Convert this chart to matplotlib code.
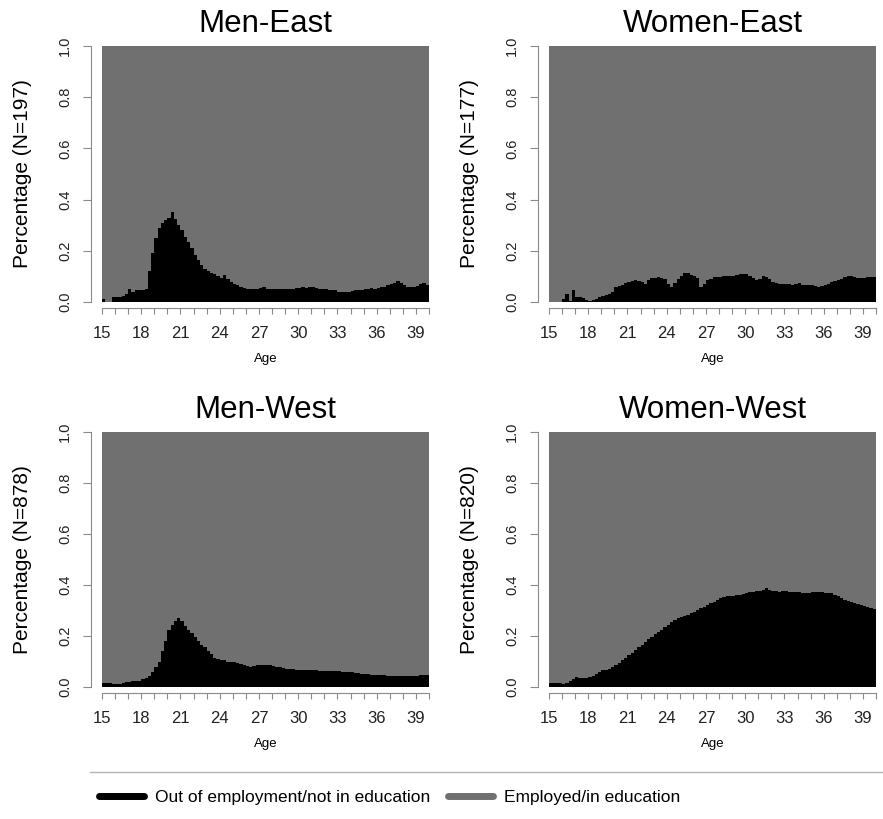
import numpy as np
import matplotlib.pyplot as plt
from matplotlib.lines import Line2D

plt.rcParams['font.family'] = ['Liberation Sans', 'DejaVu Sans']

# ages 15..40, one value per quarter year
age_start, age_end, age_step = 15, 40, 0.25
titles = ["Men-East", "Women-East", "Men-West", "Women-West"]
group_n = [197, 177, 878, 820]
age_ticks = list(range(15, 41))
age_labels = [str(a) if (a - 15) % 3 == 0 else "" for a in age_ticks]
state_labels = ["Out of employment/not in education", "Employed/in education"]

# share out of employment / not in education
men_east = [
    0.013, 0.0, 0.0, 0.02, 0.02, 0.02, 0.025, 0.03, 0.05, 0.04, 0.045, 0.045,
    0.045, 0.05, 0.12, 0.19, 0.25, 0.29, 0.31, 0.32, 0.33, 0.35, 0.325, 0.30,
    0.28, 0.255, 0.235, 0.21, 0.185, 0.165, 0.145, 0.13, 0.12, 0.115, 0.11, 0.10,
    0.095, 0.105, 0.09, 0.08, 0.072, 0.065, 0.06, 0.055, 0.052, 0.05, 0.052, 0.052,
    0.055, 0.058, 0.052, 0.05, 0.052, 0.05, 0.052, 0.05, 0.052, 0.05, 0.052, 0.055,
    0.055, 0.057, 0.055, 0.058, 0.06, 0.055, 0.052, 0.05, 0.05, 0.048, 0.047, 0.045,
    0.04, 0.04, 0.04, 0.04, 0.042, 0.045, 0.045, 0.048, 0.05, 0.052, 0.055, 0.052,
    0.055, 0.058, 0.06, 0.065, 0.072, 0.075, 0.082, 0.075, 0.065, 0.06, 0.058, 0.06,
    0.062, 0.07, 0.075, 0.065,
]
women_east = [
    0.0, 0.0, 0.0, 0.0, 0.01, 0.03, 0.005, 0.045, 0.02, 0.018, 0.015, 0.007,
    0.005, 0.007, 0.012, 0.02, 0.025, 0.028, 0.03, 0.04, 0.058, 0.062, 0.068, 0.075,
    0.078, 0.082, 0.085, 0.083, 0.08, 0.072, 0.085, 0.092, 0.095, 0.098, 0.095, 0.09,
    0.07, 0.06, 0.075, 0.09, 0.10, 0.112, 0.115, 0.105, 0.10, 0.095, 0.06, 0.07,
    0.085, 0.09, 0.098, 0.098, 0.098, 0.10, 0.103, 0.102, 0.10, 0.104, 0.108, 0.11,
    0.11, 0.102, 0.095, 0.087, 0.09, 0.10, 0.098, 0.088, 0.08, 0.074, 0.072, 0.072,
    0.07, 0.07, 0.068, 0.072, 0.073, 0.068, 0.065, 0.065, 0.065, 0.062, 0.06, 0.063,
    0.066, 0.072, 0.078, 0.082, 0.085, 0.09, 0.098, 0.10, 0.10, 0.098, 0.095, 0.095,
    0.095, 0.097, 0.098, 0.098,
]
men_west = [
    0.015, 0.014, 0.016, 0.013, 0.01, 0.012, 0.017, 0.018, 0.02, 0.022, 0.022, 0.025,
    0.03, 0.035, 0.045, 0.06, 0.08, 0.10, 0.14, 0.18, 0.225, 0.245, 0.26, 0.27,
    0.26, 0.24, 0.222, 0.21, 0.195, 0.18, 0.165, 0.155, 0.14, 0.128, 0.115, 0.11,
    0.107, 0.104, 0.10, 0.10, 0.098, 0.095, 0.09, 0.087, 0.083, 0.08, 0.083, 0.087,
    0.086, 0.085, 0.087, 0.085, 0.083, 0.08, 0.077, 0.074, 0.072, 0.07, 0.069, 0.068,
    0.068, 0.067, 0.067, 0.066, 0.065, 0.065, 0.064, 0.063, 0.063, 0.063, 0.062, 0.062,
    0.061, 0.06, 0.059, 0.058, 0.057, 0.056, 0.054, 0.052, 0.051, 0.05, 0.048, 0.047,
    0.047, 0.047, 0.046, 0.045, 0.045, 0.044, 0.044, 0.044, 0.044, 0.043, 0.042, 0.042,
    0.044, 0.046, 0.047, 0.048,
]
women_west = [
    0.016, 0.015, 0.017, 0.014, 0.01, 0.015, 0.025, 0.032, 0.038, 0.037, 0.035, 0.035,
    0.038, 0.045, 0.052, 0.06, 0.065, 0.068, 0.072, 0.078, 0.085, 0.095, 0.105, 0.115,
    0.125, 0.135, 0.145, 0.155, 0.165, 0.175, 0.187, 0.198, 0.209, 0.216, 0.224, 0.234,
    0.244, 0.253, 0.262, 0.27, 0.276, 0.28, 0.284, 0.29, 0.296, 0.302, 0.309, 0.315,
    0.322, 0.328, 0.335, 0.342, 0.348, 0.352, 0.355, 0.356, 0.357, 0.359, 0.361, 0.364,
    0.368, 0.371, 0.374, 0.376, 0.377, 0.382, 0.39, 0.38, 0.378, 0.376, 0.374, 0.375,
    0.375, 0.374, 0.374, 0.373, 0.372, 0.37, 0.368, 0.37, 0.372, 0.373, 0.374, 0.372,
    0.37, 0.369, 0.368, 0.362, 0.355, 0.348, 0.342, 0.338, 0.335, 0.331, 0.326, 0.321,
    0.316, 0.312, 0.309, 0.306,
]
groups = [men_east, women_east, men_west, women_west]

OUT_COLOR = "#000000"
EMP_COLOR = "#707070"
AXIS_COLOR = "#8a8a8a"

fig = plt.figure(figsize=(8.83, 8.19), dpi=100)
W, H = 883, 819
# panel rectangles in pixels: left, top, width, height
rects = [(102, 46, 327, 256), (549, 46, 327, 256),
         (102, 432, 327, 255), (549, 432, 327, 255)]

edges = np.arange(age_start, age_end + age_step / 2, age_step)

for (lx, ty, pw, ph), title, n, out in zip(rects, titles, group_n, groups):
    ax = fig.add_axes([lx / W, 1 - (ty + ph) / H, pw / W, ph / H])
    out = np.array(out)
    ax.stairs(out, edges, baseline=0, fill=True, color=OUT_COLOR, lw=0)
    ax.stairs(np.ones_like(out), edges, baseline=out, fill=True, color=EMP_COLOR, lw=0)
    ax.set_xlim(age_start, age_end)
    ax.set_ylim(0, 1)

    for s in ["top", "right"]:
        ax.spines[s].set_visible(False)
    ax.spines["left"].set_position(("outward", 8))
    ax.spines["bottom"].set_position(("outward", 4.5))
    ax.spines["left"].set_bounds(0, 1)
    ax.spines["bottom"].set_bounds(age_start, age_end)
    for s in ["left", "bottom"]:
        ax.spines[s].set_color(AXIS_COLOR)
        ax.spines[s].set_linewidth(0.8)

    ax.set_xticks(age_ticks)
    ax.set_xticklabels(age_labels)
    ax.set_yticks([0, 0.2, 0.4, 0.6, 0.8, 1.0])
    ax.set_yticklabels(["0.0", "0.2", "0.4", "0.6", "0.8", "1.0"])
    ax.tick_params(axis="x", length=4, width=0.8, color=AXIS_COLOR,
                   labelsize=12, pad=9, labelcolor="#222222")
    ax.tick_params(axis="y", length=5.5, width=0.8, color=AXIS_COLOR,
                   labelsize=10.5, pad=8, labelcolor="#222222", labelrotation=90)
    plt.setp(ax.get_yticklabels(), va="center")

    ax.set_title(title, fontsize=22.5, pad=10)
    ax.set_ylabel(f"Percentage (N={n})", fontsize=15)
    ax.yaxis.set_label_coords(-0.215, 0.5)
    ax.set_xlabel("Age", fontsize=9.5)
    ax.xaxis.set_label_coords(0.5, -0.2)

# separator line above legend
fig.add_artist(Line2D([90 / W, 1.0], [1 - 772 / H] * 2, transform=fig.transFigure,
                      color="#b5b5b5", lw=1))

handles = [Line2D([], [], color=OUT_COLOR, lw=5, solid_capstyle="round"),
           Line2D([], [], color=EMP_COLOR, lw=5, solid_capstyle="round")]
fig.legend(handles, state_labels, loc="center left",
           bbox_to_anchor=(99 / W, 1 - 797 / H), ncol=2, frameon=False,
           fontsize=12.5, handlelength=2.6, handletextpad=0.65,
           columnspacing=1.0, borderaxespad=0, borderpad=0)

fig.savefig("out.png", dpi=100)
